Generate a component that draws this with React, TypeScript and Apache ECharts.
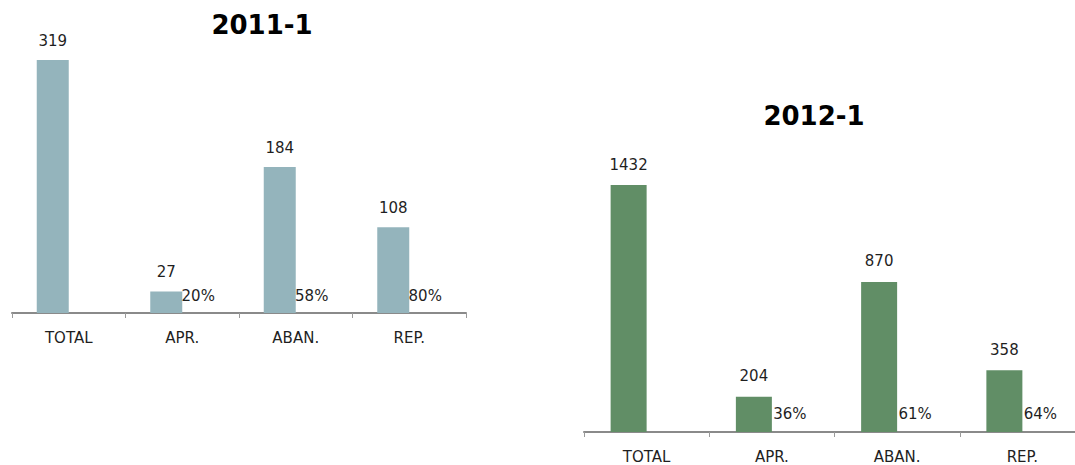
import React, { useEffect, useRef } from "react";
import * as echarts from "echarts";

const categories = ["TOTAL", "APR.", "ABAN.", "REP."];
const title2011 = "2011-1";
const values2011 = [319, 27, 184, 108];
const pct2011: (string | null)[] = [null, "20%", "58%", "80%"];
const title2012 = "2012-1";
const values2012 = [1432, 204, 870, 358];
const pct2012: (string | null)[] = [null, "36%", "61%", "64%"];

const FONT = "DejaVu Sans";
const TEXT = "#1f1f1f";

function makeSeries(
  idx: number,
  values: number[],
  pct: (string | null)[],
  color: string,
  barWidth: number,
  valDist: number,
  pctDist: number
) {
  return [
    {
      type: "bar",
      xAxisIndex: idx,
      yAxisIndex: idx,
      data: values,
      barWidth,
      barGap: "0%",
      itemStyle: { color },
      label: {
        show: true,
        position: "top",
        distance: valDist,
        fontFamily: FONT,
        fontSize: 15,
        color: TEXT,
      },
    },
    {
      type: "bar",
      xAxisIndex: idx,
      yAxisIndex: idx,
      data: pct.map((p) => (p == null ? "-" : 0)),
      barWidth,
      barGap: "0%",
      itemStyle: { color: "rgba(0,0,0,0)" },
      label: {
        show: true,
        position: "top",
        distance: pctDist,
        fontFamily: FONT,
        fontSize: 15,
        color: TEXT,
        formatter: (p: any) => pct[p.dataIndex] ?? "",
      },
    },
  ];
}

function makeAxes(idx: number, margin: number) {
  return {
    x: {
      type: "category",
      gridIndex: idx,
      data: categories,
      axisLine: { lineStyle: { color: "#8a8a8a", width: 2 } },
      axisTick: { show: true, length: 5, lineStyle: { color: "#9a9a9a", width: 1 } },
      axisLabel: { fontFamily: FONT, fontSize: 15, color: TEXT, margin },
    },
    y: {
      type: "value",
      gridIndex: idx,
      min: 0,
      max: "dataMax",
      show: false,
      splitLine: { show: false },
    },
  };
}

export default function App() {
  const ref = useRef<HTMLDivElement>(null);
  useEffect(() => {
    if (!ref.current) return;
    document.body.style.overflow = "hidden";
    const chart = echarts.init(ref.current, undefined, { renderer: "svg" });
    const a0 = makeAxes(0, 17);
    const a1 = makeAxes(1, 17);
    chart.setOption({
      animation: false,
      backgroundColor: "#ffffff",
      grid: [
        { left: 12, top: 60, width: 454, height: 253 },
        { left: 584, top: 185, width: 501, height: 247 },
      ],
      xAxis: [a0.x, a1.x],
      yAxis: [a0.y, a1.y],
      graphic: [
        {
          type: "text",
          x: 262,
          y: 25,
          style: {
            text: title2011,
            fontFamily: FONT,
            fontWeight: "bold",
            fontSize: 26,
            fill: "#000",
            textAlign: "center",
            textVerticalAlign: "middle",
          },
        },
        {
          type: "text",
          x: 814,
          y: 116,
          style: {
            text: title2012,
            fontFamily: FONT,
            fontWeight: "bold",
            fontSize: 26,
            fill: "#000",
            textAlign: "center",
            textVerticalAlign: "middle",
          },
        },
      ],
      series: [
        ...makeSeries(0, values2011, pct2011, "#94b4bc", 32, 12, 10),
        ...makeSeries(1, values2012, pct2012, "#618e66", 36, 13, 11),
      ],
    });
    return () => chart.dispose();
  }, []);
  return (
    <div
      ref={ref}
      style={{ position: "fixed", left: 0, top: 0, width: 1100, height: 465, background: "#fff" }}
    />
  );
}
